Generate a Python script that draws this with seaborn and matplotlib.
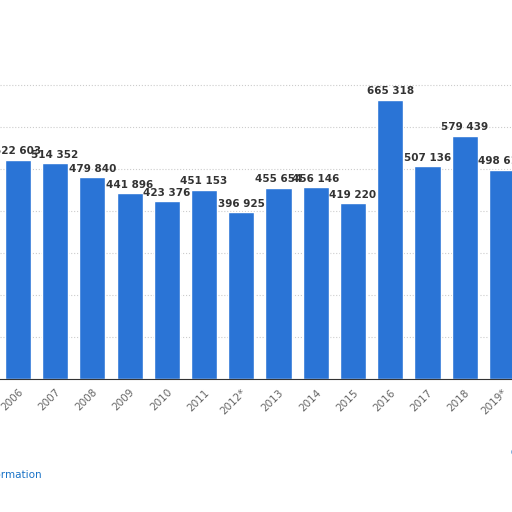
import matplotlib
matplotlib.use("Agg")
import matplotlib.pyplot as plt
import seaborn as sns
import pandas as pd

years = ["2006","2007","2008","2009","2010","2011","2012*","2013","2014","2015","2016","2017","2018","2019*"]
values = [522603,514352,479840,441896,423376,451153,396925,455654,456146,419220,665318,507136,579439,498612]
labels = ["522 603","514 352","479 840","441 896","423 376","451 153","396 925","455 654","456 146","419 220","665 318","507 136","579 439","498 612"]

sns.set_style("white")
plt.rcParams['font.family'] = ['DejaVu Sans']
fig = plt.figure(figsize=(5.12,5.12), dpi=100)
ax = fig.add_axes([0.0, 0.26, 1.0, 0.623])
df = pd.DataFrame({"year": years, "value": values})
sns.barplot(data=df, x="year", y="value", color="#2a74d6", saturation=1, width=0.7, ax=ax)
ax.set_xlim(-0.48, 13.27)
ax.set_ylim(0, 760000)
ax.set_yticks([100000,200000,300000,400000,500000,600000,700000])
ax.yaxis.grid(True, color="#cccccc", linestyle=":", linewidth=0.8)
ax.set_axisbelow(True)
ax.set_yticklabels([])
ax.tick_params(axis="y", length=0)
for s in ["top","right","left"]:
    ax.spines[s].set_visible(False)
ax.spines["bottom"].set_color("#333333")
ax.set_xlabel(""); ax.set_ylabel("")
ax.set_xticks(range(len(years)))
ax.set_xticklabels(years, rotation=45, ha="right", rotation_mode="anchor", color="#666666", fontsize=7.5)
ax.tick_params(axis="x", length=0, pad=6)
for i, (v, l) in enumerate(zip(values, labels)):
    ax.text(i, v + 8000, l, ha="center", va="bottom", fontsize=7.5, fontweight="bold", color="#333333")
fig.text(0.082, 0.066, "Additional Information", ha="right", color="#1a73c7", fontsize=7.5)
fig.text(0.995, 0.11, "©", ha="left", color="#1a73c7", fontsize=7.5)
fig.savefig("out.png", dpi=100)
